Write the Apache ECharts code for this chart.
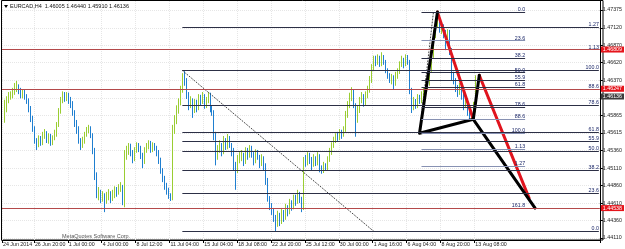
<!DOCTYPE html>
<html><head><meta charset="utf-8">
<script src="https://cdn.jsdelivr.net/npm/echarts@6/dist/echarts.min.js"></script>
<style>html,body{margin:0;padding:0;background:#fff}#c{width:625px;height:249px}</style>
</head><body><div id="c"></div>
<script>
// ---- data ----
const symbolTitle = 'EURCAD,H4  1.46005 1.46440 1.45910 1.46136';
const timeLabels = ['24 Jun 2014','26 Jun 20:00','1 Jul 00:00','4 Jul 00:00','8 Jul 12:00','11 Jul 04:00','15 Jul 04:00','18 Jul 08:00','22 Jul 20:00','25 Jul 12:00','30 Jul 00:00','1 Aug 16:00','6 Aug 04:00','8 Aug 20:00','13 Aug 08:00'];
const timeLabelSlots = [0,16,33,50,67,84,101,118,135,152,169,186,203,220,237];
const priceTicks = [1.47375,1.47120,1.46870,1.46620,1.46370,1.46115,1.45865,1.45615,1.45360,1.45110,1.44860,1.44610,1.44360,1.44110];
const firstOpen = 1.4583;
const closes = [
1.4594,1.4609,1.4613,1.4616,1.4620,1.4626,1.4630,1.4623,1.4616,1.4620,
1.4613,1.4609,1.4597,1.4583,1.4568,1.4551,1.4544,1.4554,1.4547,1.4556,
1.4561,1.4551,1.4557,1.4548,1.4554,1.4558,1.4573,1.4591,1.4609,1.4616,
1.4611,1.4616,1.4609,1.4604,1.4591,1.4577,1.4568,1.4551,1.4543,1.4548,
1.4558,1.4566,1.4568,1.4558,1.4537,1.4501,1.4473,1.4477,1.4468,1.4473,
1.4465,1.4470,1.4475,1.4468,1.4473,1.4480,1.4477,1.4483,1.4485,1.4473,
1.4530,1.4537,1.4541,1.4534,1.4526,1.4537,1.4544,1.4540,1.4530,1.4520,
1.4537,1.4543,1.4547,1.4537,1.4544,1.4540,1.4534,1.4523,1.4508,1.4497,
1.4487,1.4480,1.4471,1.4468,1.4566,1.4580,1.4594,1.4606,1.4623,1.4640,
1.4637,1.4616,1.4601,1.4609,1.4594,1.4604,1.4597,1.4611,1.4606,1.4614,
1.4601,1.4609,1.4616,1.4597,1.4591,1.4558,1.4530,1.4537,1.4544,1.4534,
1.4551,1.4541,1.4554,1.4544,1.4537,1.4515,1.4508,1.4523,1.4526,1.4530,
1.4520,1.4537,1.4528,1.4540,1.4530,1.4523,1.4534,1.4527,1.4518,1.4526,
1.4515,1.4494,1.4468,1.4458,1.4451,1.4440,1.4430,1.4444,1.4434,1.4448,
1.4440,1.4454,1.4448,1.4461,1.4455,1.4468,1.4463,1.4473,1.4465,1.4458,
1.4523,1.4520,1.4530,1.4523,1.4515,1.4526,1.4518,1.4530,1.4511,1.4508,
1.4515,1.4511,1.4523,1.4534,1.4544,1.4551,1.4557,1.4554,1.4563,1.4558,
1.4566,1.4587,1.4601,1.4611,1.4620,1.4601,1.4580,1.4594,1.4609,1.4614,
1.4603,1.4616,1.4623,1.4637,1.4654,1.4666,1.4663,1.4669,1.4660,1.4670,
1.4663,1.4652,1.4643,1.4637,1.4640,1.4631,1.4643,1.4649,1.4659,1.4666,
1.4660,1.4669,1.4663,1.4623,1.4597,1.4606,1.4600,1.4611,1.4609,1.4616,
1.4620,1.4626,1.4631,1.4652,1.4673,1.4702,1.4716,1.4720,1.4709,1.4716,
1.4702,1.4695,1.4705,1.4680,1.4644,1.4637,1.4626,1.4620,1.4629,1.4616,
1.4601,1.4609,1.4591,1.4583,1.4587,1.46005,1.46136];
const highs = [
1.4609,1.4614,1.4620,1.4621,1.4626,1.4633,1.4636,1.4631,1.4626,1.4624,
1.4623,1.4617,1.4611,1.4600,1.4586,1.4571,1.4554,1.4558,1.4557,1.4563,
1.4567,1.4564,1.4561,1.4560,1.4558,1.4566,1.4577,1.4597,1.4613,1.4621,
1.4620,1.4620,1.4619,1.4613,1.4607,1.4594,1.4580,1.4571,1.4554,1.4556,
1.4563,1.4570,1.4573,1.4571,1.4561,1.4540,1.4505,1.4484,1.4480,1.4478,
1.4475,1.4477,1.4481,1.4478,1.4480,1.4485,1.4484,1.4488,1.4491,1.4487,
1.4537,1.4543,1.4547,1.4546,1.4537,1.4541,1.4548,1.4547,1.4543,1.4533,
1.4541,1.4547,1.4551,1.4550,1.4548,1.4547,1.4543,1.4537,1.4526,1.4511,
1.4500,1.4490,1.4483,1.4475,1.4573,1.4587,1.4601,1.4611,1.4629,1.4647,
1.4650,1.4640,1.4620,1.4614,1.4611,1.4610,1.4609,1.4617,1.4616,1.4620,
1.4617,1.4613,1.4620,1.4619,1.4601,1.4594,1.4563,1.4544,1.4551,1.4547,
1.4557,1.4554,1.4560,1.4557,1.4547,1.4540,1.4520,1.4530,1.4534,1.4537,
1.4533,1.4541,1.4540,1.4544,1.4543,1.4534,1.4538,1.4537,1.4530,1.4531,
1.4528,1.4518,1.4497,1.4471,1.4461,1.4454,1.4444,1.4450,1.4447,1.4454,
1.4451,1.4460,1.4458,1.4467,1.4465,1.4473,1.4473,1.4480,1.4477,1.4470,
1.4527,1.4530,1.4534,1.4533,1.4527,1.4531,1.4528,1.4534,1.4531,1.4515,
1.4520,1.4518,1.4528,1.4540,1.4548,1.4556,1.4561,1.4563,1.4567,1.4566,
1.4571,1.4593,1.4607,1.4619,1.4627,1.4623,1.4604,1.4600,1.4613,1.4620,
1.4617,1.4621,1.4629,1.4643,1.4660,1.4672,1.4672,1.4674,1.4672,1.4677,
1.4673,1.4666,1.4654,1.4647,1.4646,1.4644,1.4649,1.4654,1.4664,1.4672,
1.4669,1.4674,1.4673,1.4666,1.4626,1.4613,1.4610,1.4617,1.4616,1.4621,
1.4626,1.4631,1.4637,1.4657,1.4680,1.4709,1.4726,1.4735,1.4723,1.4720,
1.4717,1.4709,1.4710,1.4709,1.4683,1.4649,1.4640,1.4630,1.4633,1.4631,
1.4619,1.4613,1.4611,1.4594,1.4593,1.4606,1.46440];
const lows = [
1.4576,1.4591,1.4604,1.4609,1.4611,1.4616,1.4620,1.4617,1.4611,1.4611,
1.4609,1.4603,1.4591,1.4577,1.4563,1.4546,1.4537,1.4541,1.4543,1.4544,
1.4553,1.4547,1.4546,1.4543,1.4544,1.4551,1.4556,1.4570,1.4589,1.4604,
1.4606,1.4607,1.4603,1.4597,1.4586,1.4570,1.4560,1.4546,1.4537,1.4540,
1.4546,1.4556,1.4561,1.4554,1.4531,1.4494,1.4468,1.4465,1.4461,1.4463,
1.4448,1.4460,1.4465,1.4461,1.4464,1.4468,1.4470,1.4473,1.4477,1.4458,
1.4455,1.4523,1.4530,1.4528,1.4518,1.4521,1.4533,1.4534,1.4524,1.4511,
1.4517,1.4533,1.4538,1.4533,1.4534,1.4536,1.4528,1.4517,1.4503,1.4491,
1.4480,1.4473,1.4467,1.4464,1.4465,1.4560,1.4574,1.4589,1.4601,1.4619,
1.4629,1.4610,1.4594,1.4597,1.4583,1.4590,1.4591,1.4594,1.4600,1.4603,
1.4596,1.4597,1.4604,1.4591,1.4586,1.4551,1.4515,1.4523,1.4533,1.4528,
1.4531,1.4537,1.4538,1.4540,1.4528,1.4508,1.4480,1.4504,1.4518,1.4521,
1.4514,1.4517,1.4523,1.4526,1.4526,1.4515,1.4518,1.4523,1.4511,1.4514,
1.4508,1.4487,1.4463,1.4451,1.4444,1.4434,1.4421,1.4427,1.4428,1.4431,
1.4434,1.4437,1.4442,1.4445,1.4450,1.4452,1.4457,1.4460,1.4461,1.4448,
1.4451,1.4513,1.4515,1.4517,1.4508,1.4513,1.4514,1.4515,1.4505,1.4503,
1.4504,1.4507,1.4508,1.4520,1.4530,1.4540,1.4547,1.4550,1.4551,1.4553,
1.4556,1.4563,1.4583,1.4597,1.4607,1.4597,1.4556,1.4576,1.4590,1.4604,
1.4599,1.4600,1.4611,1.4619,1.4633,1.4650,1.4657,1.4659,1.4656,1.4657,
1.4659,1.4647,1.4639,1.4633,1.4631,1.4623,1.4629,1.4639,1.4646,1.4656,
1.4654,1.4657,1.4659,1.4617,1.4590,1.4594,1.4596,1.4597,1.4603,1.4604,
1.4611,1.4616,1.4623,1.4629,1.4649,1.4669,1.4697,1.4712,1.4705,1.4703,
1.4697,1.4680,1.4689,1.4673,1.4637,1.4631,1.4620,1.4613,1.4616,1.4609,
1.4594,1.4597,1.4586,1.4579,1.4580,1.4581,1.45910];
const redLevels = [1.46809, 1.46247, 1.44538];
const currentPrice = 1.46136;
const leftFibTexts = ['1.27','1.13','100.0','88.6','78.6','61.8','55.9','50.0','38.2','23.6','0.0'];
const leftFibPrices = [1.47131,1.46808,1.46509,1.46247,1.46016,1.45629,1.45493,1.45358,1.45086,1.44750,1.44206];
const leftFibSlots = [90, 299];
const rightFibTexts = ['0.0','23.6','38.2','50.0','55.9','61.8','78.6','88.6','100.0','1.13','1.27','161.8'];
const rightFibPrices = [1.47345,1.46936,1.46682,1.46478,1.46375,1.46273,1.45981,1.45808,1.45610,1.45385,1.45142,1.44538];
const rightFibSlots = [210, 262];
const ptX = [209, 1.4561], ptA = [218, 1.47345], ptB = [236, 1.4581], ptC = [239, 1.4644], ptD = [267, 1.44538], ptD2 = [264, 1.4468];
const leftDiag = [[90, 1.46509], [186, 1.44206]];
const rightDiag = [[209, 1.4561], [216, 1.47345]];

// ---- build ----
const N = 300;
const cats = Array.from({length: N}, (_, i) => String(i));
const labelMap = {}; timeLabelSlots.forEach((s, k) => labelMap[s] = timeLabels[k]);
const isLabel = (i) => labelMap[i] !== undefined;
const candle = cats.map(() => '-');
closes.forEach((c, i) => { const o = i === 0 ? firstOpen : closes[i - 1]; candle[i + 1] = [o, c, lows[i], highs[i]]; });

const FONT = 'Liberation Sans';
const rightFibLight = {'23.6':1,'88.6':1,'100.0':1,'1.13':1,'1.27':1};
function fibSeg(slots, price, text, color) {
  return [{coord: [slots[0], price], lineStyle: {color: color, width: 1, type: 'solid'},
           label: {show: true, position: 'insideEndTop', formatter: text, fontSize: 5.3, color: '#1b2768', fontFamily: FONT, distance: 0, padding: [0,0,0,0]}},
          {coord: [slots[1], price]}];
}
const markData = [];
leftFibPrices.forEach((p, k) => markData.push(fibSeg(leftFibSlots, p, leftFibTexts[k], '#2c2f45')));
rightFibPrices.forEach((p, k) => markData.push(fibSeg(rightFibSlots, p, rightFibTexts[k], rightFibLight[rightFibTexts[k]] ? '#8791b2' : '#2c2f45')));
redLevels.forEach(v => markData.push({yAxis: v, lineStyle: {color: '#b4494b', width: 1, type: 'solid'},
  label: {show: true, position: 'end', formatter: v.toFixed(5), backgroundColor: '#e5141b', color: '#fff', fontSize: 5.3, fontFamily: FONT, padding: [1,2,0,2], distance: 1}}));
markData.push({yAxis: currentPrice, lineStyle: {color: 'rgba(0,0,0,0)', width: 0},
  label: {show: true, position: 'end', formatter: currentPrice.toFixed(5), backgroundColor: '#3c3c3c', color: '#fff', fontSize: 5.3, fontFamily: FONT, padding: [1,2,0,2], distance: 1}});

function seg(data, color, width, type) {
  return {type: 'line', data: data, symbol: 'none', silent: true, z: 4, animation: false,
          lineStyle: {color: color, width: width, type: type || 'solid', cap: 'round', join: 'round'}};
}

const chart = echarts.init(document.getElementById('c'), null, {renderer: 'canvas'});
chart.setOption({
  animation: false,
  backgroundColor: '#fff',
  grid: {left: 2, right: 22, top: 1, bottom: 9},
  xAxis: {type: 'category', data: cats, boundaryGap: true,
    axisLine: {show: true, lineStyle: {color: '#000', width: 1}},
    axisTick: {show: true, interval: (i) => isLabel(i), length: 3, lineStyle: {color: '#000'}},
    axisLabel: {interval: (i) => isLabel(i), formatter: (v, i) => labelMap[i] || '', align: 'left', fontSize: 5.3, color: '#222', margin: 2, fontFamily: FONT},
    splitLine: {show: true, interval: (i) => isLabel(i), lineStyle: {color: '#e6e6e6', type: 'dotted'}}},
  yAxis: {type: 'value', position: 'right', min: 1.44081, max: 1.47504,
    axisLine: {show: true, lineStyle: {color: '#000', width: 1}},
    axisTick: {show: true, customValues: priceTicks, length: 3, lineStyle: {color: '#000'}},
    axisLabel: {customValues: priceTicks, formatter: (v) => v.toFixed(5), fontSize: 5.3, color: '#222', margin: 3, fontFamily: FONT},
    splitLine: {show: true, lineStyle: {color: '#e6e6e6', type: 'dotted'}}},
  graphic: [
    {type: 'rect', shape: {x: 1.5, y: 0.5, width: 601.5, height: 239.5}, style: {fill: 'none', stroke: '#000', lineWidth: 1}, z: 0, silent: true},
    {type: 'polygon', shape: {points: [[4, 5], [8, 5], [6, 8]]}, style: {fill: '#000'}, z: 10},
    {type: 'text', x: 10, y: 3.5, style: {text: symbolTitle, fontSize: 5.5, fill: '#111', font: '5.5px ' + FONT}, z: 10},
    {type: 'text', x: 62, y: 233, style: {text: 'MetaQuotes Software Corp.', fill: '#555', font: '5.5px ' + FONT}, z: 10}
  ],
  series: [
    {type: 'candlestick', data: candle, barWidth: 1, silent: true, z: 2,
      itemStyle: {color: '#9acd32', color0: '#1f7fd0', borderColor: '#9acd32', borderColor0: '#1f7fd0', borderWidth: 1},
      markLine: {symbol: 'none', silent: true, animation: false, precision: 5, data: markData}},
    seg(leftDiag, '#444', 1, [1, 2]),
    seg(rightDiag, '#444', 1, [1, 2]),
    seg([ptA, ptB], '#e0141e', 3),
    seg([ptC, ptD2], '#e0141e', 3),
    seg([ptA, ptX, ptB, ptC], '#000', 3),
    seg([ptB, ptD], '#000', 3)
  ]
});
</script></body></html>
